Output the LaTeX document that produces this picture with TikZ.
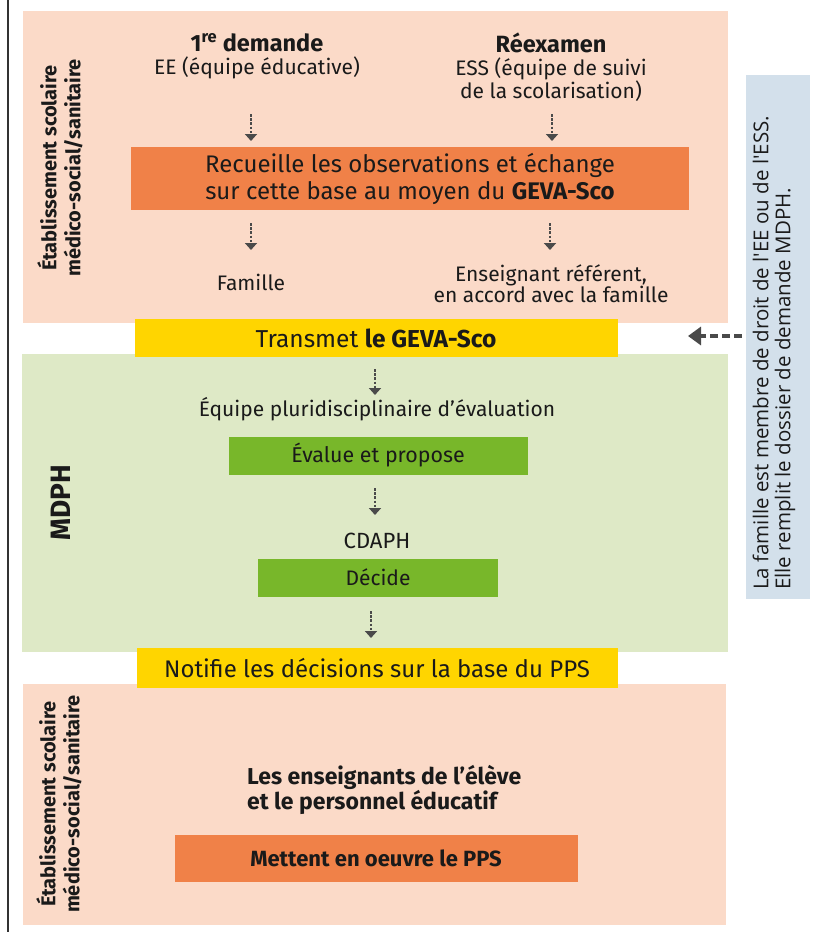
\documentclass[tikz,border=0pt]{standalone}
\usepackage{fontspec}
\setmainfont{Fira Sans}
\newfontfamily\notefont{Open Sans}
\usetikzlibrary{arrows.meta}
\definecolor{pinkbg}{HTML}{FBDAC8}
\definecolor{orangebox}{HTML}{F08148}
\definecolor{yellowbox}{HTML}{FFD500}
\definecolor{greenbg}{HTML}{DEE9C6}
\definecolor{greenbox}{HTML}{78B72A}
\definecolor{bluebg}{HTML}{D3E0EB}
\definecolor{txt}{HTML}{1A1A1A}
\definecolor{arrgray}{HTML}{4A4A4A}
\definecolor{linegray}{HTML}{333333}
\begin{document}
\begin{tikzpicture}[x=1pt,y=-1pt,
  box/.style={inner sep=0pt, outer sep=0pt, anchor=north west, text=txt, align=center},
  lbl/.style={inner sep=0pt, text=txt, align=center},
  side/.style={inner sep=0pt, text=txt, align=center, rotate=90, font=\bfseries\fontsize{20}{24}\selectfont},
  arr/.style={draw=arrgray, line width=2.6pt, dash pattern=on 2.6pt off 1.6pt, -{Triangle[width=12pt,length=7pt]}},
  famarr/.style={draw=arrgray, line width=3.4pt, dash pattern=on 8pt off 4pt, -{Triangle[width=18pt,length=13pt]}}
]
\useasboundingbox (0,0) rectangle (815,932);
\fill[white] (0,0) rectangle (815,932);
\draw[linegray, line width=1.5pt] (8,0) -- (8,932);

% backgrounds
\node[box, fill=pinkbg, minimum width=705pt, minimum height=312pt] (etab1) at (23,11) {};
\node[box, fill=greenbg, minimum width=706pt, minimum height=298pt] (mdph) at (22,354) {};
\node[box, fill=yellowbox, minimum width=483pt, minimum height=38pt] (transmet) at (135,319) {};
\node[box, fill=pinkbg, minimum width=703pt, minimum height=241pt] (etab2) at (23,684) {};
\node[box, fill=yellowbox, minimum width=481pt, minimum height=40pt] (notifie) at (137,648) {};
\node[box, fill=orangebox, minimum width=558pt, minimum height=63pt] (recueille) at (131,147) {};
\node[box, fill=greenbox, minimum width=299pt, minimum height=38pt] (evalue) at (229,437) {};
\node[box, fill=greenbox, minimum width=240pt, minimum height=38pt] (decide) at (258,559) {};
\node[box, fill=orangebox, minimum width=403pt, minimum height=47pt] (mettent) at (175,835) {};
\node[box, fill=bluebg, minimum width=64pt, minimum height=524pt] (note) at (746,75) {};

% side labels
\node[side] (s1) at (60,168) {Établissement scolaire\\médico-social/sanitaire};
\node[side] (s2) at (59,804) {Établissement scolaire\\médico-social/sanitaire};
\node[side, font=\bfseries\fontsize{28}{30}\selectfont] (s3) at (61,503) {MDPH};

% top section texts
\node[lbl, font=\bfseries\fontsize{23.5}{26}\selectfont] (dem) at (257,43) {1\textsuperscript{re} demande};
\node[lbl, font=\fontsize{21}{23}\selectfont] (ee) at (257,68) {EE (équipe éducative)};
\node[lbl, font=\bfseries\fontsize{23.5}{26}\selectfont] (reex) at (551,43) {Réexamen};
\node[lbl, font=\fontsize{21}{23}\selectfont] (ess) at (551,80) {ESS (équipe de suivi\\de la scolarisation)};
\node[lbl, font=\fontsize{24}{27}\selectfont] (rtxt) at (410,179) {Recueille les observations et échange\\sur cette base au moyen du \textbf{GEVA-Sco}};
\node[lbl, font=\fontsize{21}{21}\selectfont] (fam) at (251,282) {Famille};
\node[lbl, font=\fontsize{21}{21}\selectfont] (ens) at (551,284) {Enseignant référent,\\en accord avec la famille};

% middle texts
\node[lbl, font=\fontsize{24.5}{26}\selectfont] (ttxt) at (376,338) {Transmet \textbf{le GEVA-Sco}};
\node[lbl, font=\fontsize{21}{23}\selectfont] (epe) at (377,409) {Équipe pluridisciplinaire d’évaluation};
\node[lbl, font=\fontsize{21.4}{23}\selectfont] (etxt) at (378,455) {Évalue et propose};
\node[lbl, font=\fontsize{22}{23}\selectfont] (cdaph) at (377,541) {CDAPH};
\node[lbl, font=\fontsize{21}{23}\selectfont] (dtxt) at (378,577) {Décide};
\node[lbl, font=\fontsize{24}{26}\selectfont] (ntxt) at (377,668) {Notifie les décisions sur la base du PPS};

% bottom texts
\node[lbl, align=left, anchor=west, font=\bfseries\fontsize{23}{25}\selectfont] (lens) at (247,790) {Les enseignants de l’élève\\et le personnel éducatif};
\node[lbl, font=\bfseries\fontsize{22}{24}\selectfont] (mtxt) at (376,858) {Mettent en oeuvre le PPS};

% note
\node[lbl, rotate=90, anchor=west, align=left, font=\notefont\fontsize{20.5}{22}\selectfont] (ntext) at (774,590) {La famille est membre de droit de l'EE ou de l'ESS.\\Elle remplit le dossier de demande MDPH.};

% arrow coordinates
\coordinate (a1t) at (251,114); \coordinate (a1b) at (251,141);
\coordinate (a2t) at (552,114); \coordinate (a2b) at (552,141);
\coordinate (a3t) at (251,223); \coordinate (a3b) at (251,250);
\coordinate (a4t) at (550,223); \coordinate (a4b) at (550,250);
\coordinate (a5t) at (375,369); \coordinate (a5b) at (375,395);
\coordinate (a6t) at (375,488); \coordinate (a6b) at (375,515);
\coordinate (a7t) at (371,611); \coordinate (a7b) at (371,638);
\coordinate (fs) at (742,336); \coordinate (fe) at (688,336);

\draw[arr] (a1t) -- (a1b);
\draw[arr] (a2t) -- (a2b);
\draw[arr] (a3t) -- (a3b);
\draw[arr] (a4t) -- (a4b);
\draw[arr] (a5t) -- (a5b);
\draw[arr] (a6t) -- (a6b);
\draw[arr] (a7t) -- (a7b);
\draw[famarr] (fs) -- (fe);
\end{tikzpicture}
\end{document}
